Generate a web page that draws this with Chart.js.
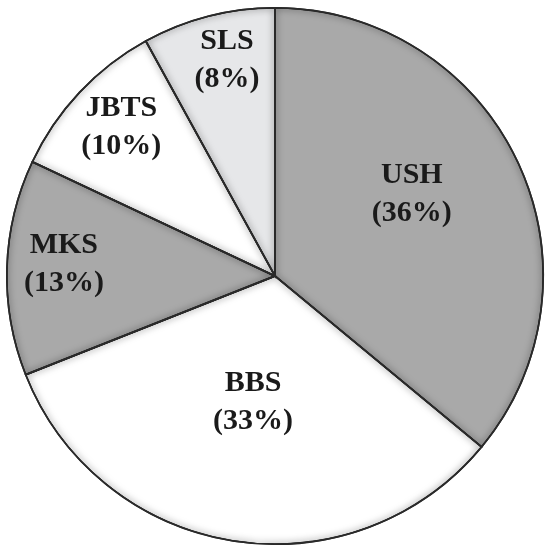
<!DOCTYPE html>
<html>
<head>
<meta charset="utf-8">
<script src="https://cdn.jsdelivr.net/npm/chart.js@4"></script>
<style>
  html, body { margin: 0; padding: 0; background: #fff; }
  #wrap { width: 549px; height: 550px; }
</style>
</head>
<body>
<div id="wrap"><canvas id="myChart" width="549" height="550"></canvas></div>
<script>
const labels = ['USH', 'BBS', 'MKS', 'JBTS', 'SLS'];
const shares = [36, 33, 13, 10, 8];
const fills = ['#a9a9a9', '#ffffff', '#a9a9a9', '#ffffff', '#e6e7e9'];

// label centre for each slice, offset from the pie centre in radius units
const labelOffset = [[0.51, -0.313], [-0.082, 0.463], [-0.787, -0.052], [-0.573, -0.562], [-0.179, -0.812]];

function slicePath(ctx, p) {
    ctx.beginPath();
    ctx.moveTo(p.x, p.y);
    ctx.arc(p.x, p.y, p.outerRadius, p.startAngle, p.endAngle);
    ctx.closePath();
}

// soft dark edge inside every slice, like the bevel in the original
const bevel = {
    id: 'bevel',
    afterDatasetsDraw(chart) {
        const ctx = chart.ctx;
        const meta = chart.getDatasetMeta(0);
        meta.data.forEach(arc => {
            const p = arc.getProps(['x', 'y', 'startAngle', 'endAngle', 'outerRadius'], true);
            ctx.save();
            slicePath(ctx, p);
            ctx.clip();
            ctx.shadowColor = 'rgba(0,0,0,0.6)';
            ctx.shadowBlur = 7;
            ctx.lineWidth = 2;
            ctx.strokeStyle = '#2a2a2a';
            slicePath(ctx, p);
            ctx.stroke();
            ctx.restore();
        });
        meta.data.forEach(arc => {
            const p = arc.getProps(['x', 'y', 'startAngle', 'endAngle', 'outerRadius'], true);
            ctx.save();
            ctx.lineWidth = 1.5;
            ctx.strokeStyle = '#2a2a2a';
            slicePath(ctx, p);
            ctx.stroke();
            ctx.restore();
        });
    }
};

const sliceLabels = {
    id: 'sliceLabels',
    afterDatasetsDraw(chart) {
        const ctx = chart.ctx;
        const meta = chart.getDatasetMeta(0);
        ctx.save();
        ctx.font = 'bold 30px "Liberation Serif", serif';
        ctx.fillStyle = '#1a1a1a';
        ctx.textAlign = 'center';
        ctx.textBaseline = 'alphabetic';
        meta.data.forEach((arc, i) => {
            const p = arc.getProps(['x', 'y', 'outerRadius'], true);
            const x = p.x + labelOffset[i][0] * p.outerRadius;
            const y = p.y + labelOffset[i][1] * p.outerRadius;
            ctx.fillText(labels[i], x, y - 9);
            ctx.fillText('(' + shares[i] + '%)', x, y + 29);
        });
        ctx.restore();
    }
};

const ctx = document.getElementById('myChart').getContext('2d');
const myChart = new Chart(ctx, {
    type: 'pie',
    data: {
        labels: labels,
        datasets: [{
            data: shares,
            backgroundColor: fills,
            borderColor: '#2a2a2a',
            borderWidth: 1.5
        }]
    },
    options: {
        responsive: false,
        animation: false,
        layout: { padding: { left: 6, right: 5, top: 7, bottom: 5 } },
        plugins: {
            legend: { display: false },
            tooltip: { enabled: false }
        }
    },
    plugins: [bevel, sliceLabels]
});
</script>
</body>
</html>
